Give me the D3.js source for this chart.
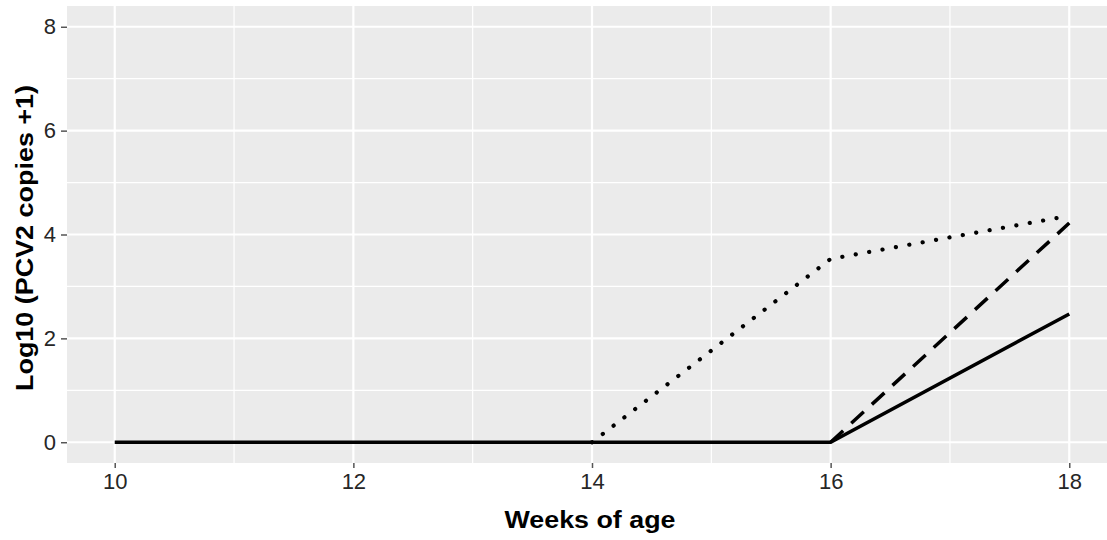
<!DOCTYPE html>
<html>
<head>
<meta charset="utf-8">
<script src="https://cdn.jsdelivr.net/npm/d3@7"></script>
<style>
  body { margin: 0; background: #fff; }
  svg { display: block; font-family: "Liberation Sans", Arial, sans-serif; }
  .tick text { fill: #262626; font-size: 22px; }
  .tick line { stroke: #555; }
  .label { font-weight: bold; font-size: 23px; fill: #000; }
</style>
</head>
<body>
<svg id="chart" width="1107" height="540"></svg>
<script>
// Weeks sampled
const weeks = [10, 12, 14, 16, 18];

// Log10 (PCV2 copies + 1) per group
const solidVals  = [0, 0, 0, 0, 2.47];
const dashedVals = [0, 0, 0, 0, 4.22];
const dottedVals = [0, 0, 0, 3.53, 4.36];

const xTicks = [10, 12, 14, 16, 18];
const yTicks = [0, 2, 4, 6, 8];

// Panel box (ggplot style, 5% expansion on each side)
var margin = { top: 6, right: -10, bottom: 77, left: 67 };

var svg = d3.select("#chart");
var W = +svg.attr("width"), H = +svg.attr("height");
var w = W - margin.left - margin.right;
var h = H - margin.top - margin.bottom;

var g = svg.append("g")
    .attr("transform", "translate(" + margin.left + "," + margin.top + ")");

var xR = d3.scaleLinear().domain([9.6, 18.4]).range([0, w]);
var yR = d3.scaleLinear().domain([-0.4, 8.4]).range([h, 0]);

// grey panel
g.append("rect")
    .attr("width", w).attr("height", h)
    .attr("fill", "#EBEBEB");

// minor grid
var xMinor = [11, 13, 15, 17], yMinor = [1, 3, 5, 7];
g.selectAll(".xminor").data(xMinor).enter().append("line")
    .attr("x1", d => xR(d)).attr("x2", d => xR(d))
    .attr("y1", 0).attr("y2", h)
    .attr("stroke", "#fff").attr("stroke-width", 1.2);
g.selectAll(".yminor").data(yMinor).enter().append("line")
    .attr("y1", d => yR(d)).attr("y2", d => yR(d))
    .attr("x1", 0).attr("x2", w)
    .attr("stroke", "#fff").attr("stroke-width", 1.2);

// major grid
g.selectAll(".xmajor").data(xTicks).enter().append("line")
    .attr("x1", d => xR(d)).attr("x2", d => xR(d))
    .attr("y1", 0).attr("y2", h)
    .attr("stroke", "#fff").attr("stroke-width", 2.2);
g.selectAll(".ymajor").data(yTicks).enter().append("line")
    .attr("y1", d => yR(d)).attr("y2", d => yR(d))
    .attr("x1", 0).attr("x2", w)
    .attr("stroke", "#fff").attr("stroke-width", 2.2);

// axes
var xAxis = g.append("g")
    .attr("transform", "translate(0," + h + ")")
    .call(d3.axisBottom(xR).tickValues(xTicks).tickSize(5).tickPadding(5).tickFormat(d3.format("d")));
var yAxis = g.append("g")
    .call(d3.axisLeft(yR).tickValues(yTicks).tickSize(6).tickPadding(5).tickFormat(d3.format("d")));
[xAxis, yAxis].forEach(a => {
    a.select(".domain").remove();
    a.selectAll(".tick line").attr("stroke-width", 1.5);
});

var series = [
    { vals: dottedVals, dash: "0.1 13.5", cap: "round" },
    { vals: dashedVals, dash: "17 11", cap: "butt" },
    { vals: solidVals,  dash: null,     cap: "butt" }
];

series.forEach(s => {
    var vals = s.vals;
    // the zero stretch is drawn by the solid line; start dotted/dashed where they rise
    var first = 0;
    if (s.dash) {
        while (first < vals.length - 1 && vals[first + 1] === 0) first++;
    }
    var pts = vals.map((v, i) => ({ v: v, i: i })).filter(p => p.i >= first);
    g.append("path")
        .datum(pts)
        .attr("d", d3.line().x(p => xR(weeks[p.i])).y(p => yR(p.v)))
        .attr("fill", "none")
        .attr("stroke", "#000")
        .attr("stroke-width", s.cap === "round" ? 4.2 : 3.5)
        .attr("stroke-linecap", s.cap)
        .attr("stroke-dasharray", s.dash);
});

// axis titles (the reference glyphs are stretched along the baseline)
svg.append("text")
    .attr("class", "label")
    .attr("x", 590).attr("y", 528)
    .attr("text-anchor", "middle")
    .attr("textLength", 171)
    .attr("lengthAdjust", "spacingAndGlyphs")
    .text("Weeks of age");

svg.append("text")
    .attr("class", "label")
    .attr("transform", "rotate(-90)")
    .attr("x", -238).attr("y", 33)
    .attr("text-anchor", "middle")
    .attr("textLength", 306)
    .attr("lengthAdjust", "spacingAndGlyphs")
    .text("Log10 (PCV2 copies +1)");
</script>
</body>
</html>
